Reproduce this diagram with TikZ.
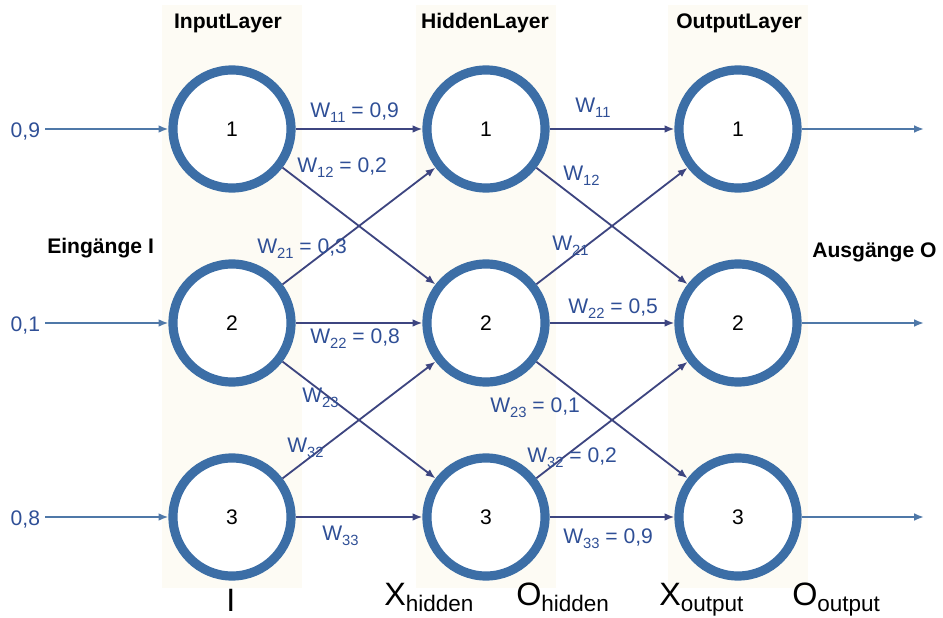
\documentclass[tikz,border=0pt]{standalone}
\usepackage{fontspec}
\setmainfont{Liberation Sans}
\usetikzlibrary{arrows.meta}
\definecolor{ringblue}{HTML}{3C6EA6}
\definecolor{wireblue}{HTML}{3D4580}
\definecolor{ioblue}{HTML}{4F78A8}
\definecolor{lblblue}{HTML}{2F4F96}
\definecolor{colbg}{HTML}{FDFBF4}
\newcommand{\wsub}[1]{\raisebox{-0.45ex}{\fontsize{10.5}{12}\selectfont #1}}
\newcommand{\bsub}[1]{\raisebox{-0.4ex}{\fontsize{16}{18}\selectfont #1}}

\begin{document}
\begin{tikzpicture}[x=0.025cm, y=-0.025cm,
    neuron/.style={circle, draw=ringblue, line width=6.5pt, fill=white,
      minimum size=2.95cm, inner sep=0pt, font=\fontsize{15}{18}\selectfont},
    wire/.style={draw=wireblue, line width=1.3pt, -{Latex[length=7pt,width=5.5pt]}},
    io wire/.style={draw=ioblue, line width=1.3pt, -{Latex[length=7pt,width=5.5pt]}},
    layer/.style={font=\bfseries\fontsize{15}{18}\selectfont, anchor=base, inner sep=0pt},
    weight/.style={text=lblblue, font=\fontsize{15}{18}\selectfont, anchor=base west, inner sep=0pt},
    value/.style={text=lblblue, font=\fontsize{15}{18}\selectfont, anchor=east},
    big/.style={font=\fontsize{23}{26}\selectfont, anchor=base west, inner sep=0pt} ]
    \useasboundingbox (0,0) rectangle (943,618);
    % layer columns
    \fill [colbg] (162,5) rectangle (302,588);
    \fill [colbg] (416,5) rectangle (556,588);
    \fill [colbg] (668,5) rectangle (808,588);
    \node [layer] (tin) at (228,28) {InputLayer};
    \node [layer] (thid) at (485,28) {HiddenLayer};
    \node [layer] (tout) at (739,28) {OutputLayer};
    \node [layer, anchor=base west] (tein) at (47,253) {Eingänge I};
    \node [layer, anchor=base west] (taus) at (812,257) {Ausgänge O};
    % neurons
    \node [neuron] (in1) at (232,129) {1};
    \node [neuron] (in2) at (232,323) {2};
    \node [neuron] (in3) at (232,517) {3};
    \node [neuron] (hid1) at (486,129) {1};
    \node [neuron] (hid2) at (486,323) {2};
    \node [neuron] (hid3) at (486,517) {3};
    \node [neuron] (out1) at (738,129) {1};
    \node [neuron] (out2) at (738,323) {2};
    \node [neuron] (out3) at (738,517) {3};
    % inputs and outputs
    \node [value] (v1) at (45,131) {0,9};
    \node [value] (v2) at (45,325) {0,1};
    \node [value] (v3) at (45,519) {0,8};
    \draw [io wire] (v1.east |- in1) to (in1);
    \draw [io wire] (v2.east |- in2) to (in2);
    \draw [io wire] (v3.east |- in3) to (in3);
    \coordinate (e1) at (924,129);
    \coordinate (e2) at (924,323);
    \coordinate (e3) at (924,517);
    \draw [io wire] (out1) to (e1);
    \draw [io wire] (out2) to (e2);
    \draw [io wire] (out3) to (e3);
    % input -> hidden
    \draw [wire] (in1) to (hid1);
    \draw [wire] (in1) to (hid2);
    \draw [wire] (in2) to (hid1);
    \draw [wire] (in2) to (hid2);
    \draw [wire] (in2) to (hid3);
    \draw [wire] (in3) to (hid2);
    \draw [wire] (in3) to (hid3);
    % hidden -> output
    \draw [wire] (hid1) to (out1);
    \draw [wire] (hid1) to (out2);
    \draw [wire] (hid2) to (out1);
    \draw [wire] (hid2) to (out2);
    \draw [wire] (hid2) to (out3);
    \draw [wire] (hid3) to (out2);
    \draw [wire] (hid3) to (out3);
    % weights
    \node [weight] (w11a) at (310,117) {W\wsub{11} = 0,9};
    \node [weight] (w12a) at (297,172) {W\wsub{12} = 0,2};
    \node [weight] (w21a) at (257,253) {W\wsub{21} = 0,3};
    \node [weight] (w22a) at (310,343) {W\wsub{22} = 0,8};
    \node [weight] (w23a) at (302,402) {W\wsub{23}};
    \node [weight] (w32a) at (287,452) {W\wsub{32}};
    \node [weight] (w33a) at (322,540) {W\wsub{33}};
    \node [weight] (w11b) at (575,112) {W\wsub{11}};
    \node [weight] (w12b) at (563,180) {W\wsub{12}};
    \node [weight] (w21b) at (552,250) {W\wsub{21}};
    \node [weight] (w22b) at (568,313) {W\wsub{22} = 0,5};
    \node [weight] (w23b) at (490,412) {W\wsub{23} = 0,1};
    \node [weight] (w32b) at (527,462) {W\wsub{32} = 0,2};
    \node [weight] (w33b) at (563,543) {W\wsub{33} = 0,9};
    % bottom
    \node [big] (bi) at (226,611) {I};
    \node [big] (bxh) at (384,605) {X\bsub{hidden}};
    \node [big] (boh) at (516,605) {O\bsub{hidden}};
    \node [big] (bxo) at (659,605) {X\bsub{output}};
    \node [big] (boo) at (792,605) {O\bsub{output}};
\end{tikzpicture}
\end{document}
